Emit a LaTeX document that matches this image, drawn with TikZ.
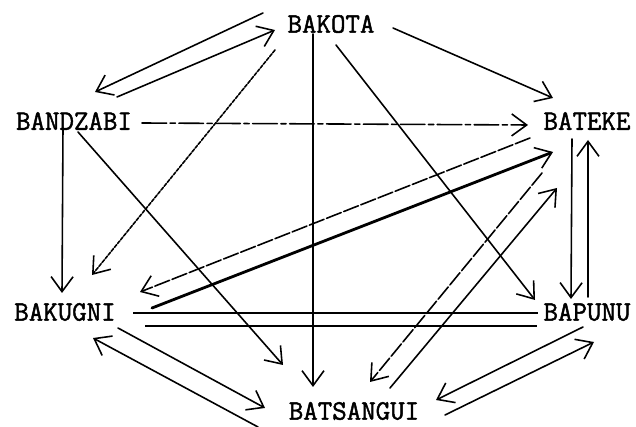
\documentclass[tikz,border=0pt]{standalone}
\usepackage{fontspec}
\usepackage{tikz}
\usetikzlibrary{arrows.meta}
\newfontfamily\tribefont{Latin Modern Mono}[FakeBold=1.6]

\begin{document}
\begin{tikzpicture}[x=0.2mm, y=-0.2mm,
    tribe/.style={font=\tribefont\fontsize{16}{16}\selectfont, inner sep=0pt},
    arr/.style={line width=0.9pt, line cap=round, -{Straight Barb[length=3mm, width=4.4mm, line width=0.9pt]}},
    brk/.style={arr, dash pattern=on 9pt off 1.5pt},
    dot/.style={arr, dash pattern=on 2pt off 0.8pt}]
    \useasboundingbox (0,0) rectangle (636,427);
    \node[tribe] (bakota) at (331,24) {BAKOTA};
    \node[tribe] (bandzabi) at (74,121) {BANDZABI};
    \node[tribe] (bateke) at (587,121) {BATEKE};
    \node[tribe] (bakugni) at (65,312) {BAKUGNI};
    \node[tribe] (bapunu) at (587,312) {BAPUNU};
    \node[tribe] (batsangui) at (354,411) {BATSANGUI};
    \foreach \a/\ax/\ay/\b/\bx/\by in {bakota/-68/-11/bandzabi/21/-29, bandzabi/43/-24/bakota/-56/6,
        bakota/62/4/bateke/-34/-23, bakota/5/21/bapunu/-52/-12, bakota/-18/10/batsangui/-41/-24,
        bandzabi/-11/7/bakugni/-3/-19, bandzabi/4/11/batsangui/-71/-46,
        bateke/-15/18/bapunu/-16/-13, bapunu/1/-15/bateke/1/19,
        batsangui/36/-23/bateke/-30/67,
        bakugni/53/16/batsangui/-89/-3, batsangui/-96/16/bakugni/28/26,
        bapunu/-4/15/batsangui/82/-11, batsangui/91/4/bapunu/7/30}
        \draw[arr] ([shift={(\ax,\ay)}]\a.center) -- ([shift={(\bx,\by)}]\b.center);
    \foreach \a/\ax/\ay/\b/\bx/\by in {bateke/-57/17/bakugni/75/-20, bateke/-45/52/batsangui/16/-29}
        \draw[brk] ([shift={(\ax,\ay)}]\a.center) -- ([shift={(\bx,\by)}]\b.center);
    \draw[dot] ([shift={(-56,26)}]bakota.center) -- ([shift={(27,-37)}]bakugni.center);
    \draw[arr, dash pattern=on 14pt off 2pt on 3pt off 2pt] ([shift={(68,2)}]bandzabi.center) -- ([shift={(-59,4)}]bateke.center);
    \draw[arr, line width=1.6pt] ([shift={(87,-4)}]bakugni.center) -- ([shift={(-34,31)}]bateke.center);
    \draw[line width=0.9pt] ([shift={(68,1)}]bakugni.center) -- ([shift={(-49,1)}]bapunu.center);
    \draw[line width=0.9pt] ([shift={(80,14)}]bakugni.center) -- ([shift={(-50,14)}]bapunu.center);
\end{tikzpicture}
\end{document}
